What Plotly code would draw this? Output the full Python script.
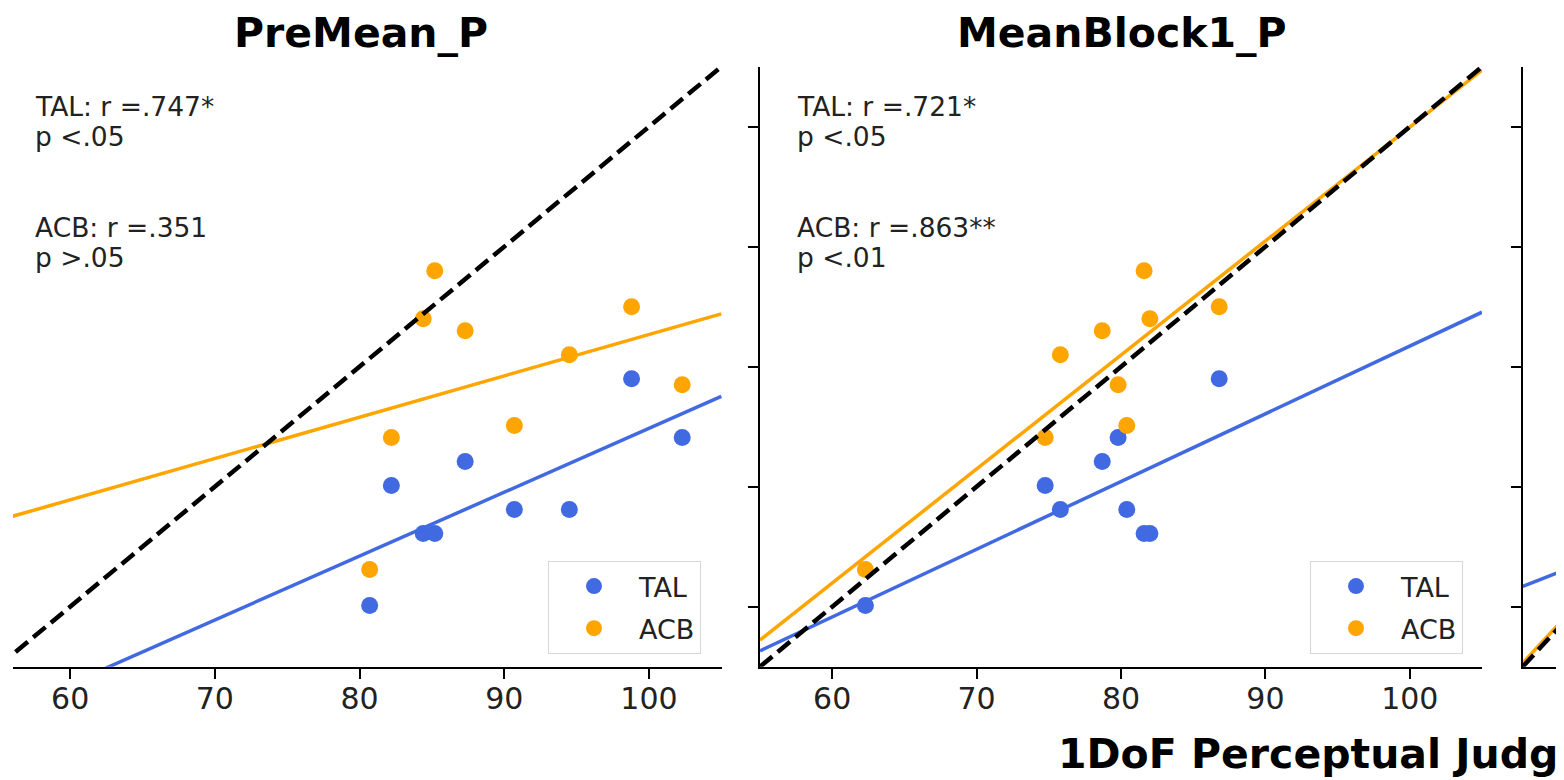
import numpy as np
import plotly.graph_objects as go

# ---------------- data ----------------
panel_titles = ["PreMean_P", "MeanBlock1_P"]
x_premean = [80.7, 82.2, 84.4, 85.2, 87.3, 90.7, 94.5, 98.8, 102.3]
x_block1 = [62.3, 74.75, 82.0, 81.6, 78.7, 80.4, 75.8, 86.8, 79.8]
y_tal = [60.1, 70.1, 66.1, 66.1, 72.1, 68.1, 68.1, 79.0, 74.1]
y_acb = [63.1, 74.1, 84.0, 88.0, 83.0, 75.1, 81.0, 85.0, 78.5]
stats_tal = ["TAL: r =.747*", "TAL: r =.721*"]
p_tal = ["p <.05", "p <.05"]
stats_acb = ["ACB: r =.351", "ACB: r =.863**"]
p_acb = ["p >.05", "p <.01"]
# third panel is cropped: only its regression lines are visible (slope, intercept)
panel3_tal_fit = [0.36, 41.9]
panel3_acb_fit = [1.0, 0.3]
axis_range = [55, 105]
tick_vals = [60, 70, 80, 90, 100]
x_label = "1DoF Perceptual Judgment"

# ---------------- style ----------------
OFF = 8                     # page body margin that the html adds
W, H = 1564 - OFF, 780 - OFF
BLUE = "#4169E1"
ORANGE = "#FFA500"
FONT = "DejaVu Sans"
DASH = "16px,7px"


def px(x):
    return (x - OFF) / W


def py(y):
    return 1 - (y - OFF) / H


fig = go.Figure()

xs_all = [x_premean, x_block1]
for i in range(2):
    xa = "x" if i == 0 else "x2"
    ya = "y" if i == 0 else "y2"
    leg = "legend" if i == 0 else "legend2"
    xs = np.array(xs_all[i])
    for name, ys, col in [("TAL", y_tal, BLUE), ("ACB", y_acb, ORANGE)]:
        fig.add_trace(go.Scatter(
            x=xs, y=ys, mode="markers", name=name,
            marker=dict(color=col, size=17, line=dict(width=0)),
            xaxis=xa, yaxis=ya, legend=leg, legendgroup=name + str(i),
            showlegend=True))
    for ys, col in [(y_tal, BLUE), (y_acb, ORANGE)]:
        k, b = np.polyfit(xs, np.array(ys), 1)
        lx = np.array(axis_range, dtype=float)
        fig.add_trace(go.Scatter(
            x=lx, y=k * lx + b, mode="lines",
            line=dict(color=col, width=3.5),
            xaxis=xa, yaxis=ya, showlegend=False, hoverinfo="skip"))
    fig.add_trace(go.Scatter(
        x=axis_range, y=axis_range, mode="lines",
        line=dict(color="black", width=4.5, dash=DASH),
        xaxis=xa, yaxis=ya, showlegend=False, hoverinfo="skip"))

# third (cropped) panel
lx = np.array(axis_range, dtype=float)
for (k, b), col in [(panel3_tal_fit, BLUE), (panel3_acb_fit, ORANGE)]:
    fig.add_trace(go.Scatter(
        x=lx, y=k * lx + b, mode="lines", line=dict(color=col, width=3.5),
        xaxis="x3", yaxis="y3", showlegend=False, hoverinfo="skip"))
fig.add_trace(go.Scatter(
    x=axis_range, y=axis_range, mode="lines",
    line=dict(color="black", width=4.5, dash=DASH),
    xaxis="x3", yaxis="y3", showlegend=False, hoverinfo="skip"))

ydom = [py(666.7), py(66.7)]
common_x = dict(showgrid=False, zeroline=False, showline=True, linecolor="black",
                linewidth=2, ticks="outside", ticklen=10, tickwidth=2,
                tickcolor="black", tickvals=tick_vals, ticklabelstandoff=-6,
                tickfont=dict(family=FONT, size=30, color="#222222"))
common_y = dict(showgrid=False, zeroline=False, range=axis_range,
                tickvals=tick_vals, showticklabels=False)

legend_style = dict(bgcolor="white", bordercolor="#d6d6d6", borderwidth=1,
                    font=dict(family=FONT, size=27, color="#222222"),
                    xanchor="left", yanchor="top", itemwidth=80, tracegroupgap=4)

fig.update_layout(
    width=W, height=H,
    margin=dict(l=0, r=0, t=0, b=0),
    paper_bgcolor="white", plot_bgcolor="white",
    font=dict(family=FONT, color="#222222"),
    xaxis=dict(domain=[px(13), px(722)], range=[56.05, 105.05], anchor="y", **common_x),
    yaxis=dict(domain=ydom, anchor="x", showline=False, ticks="", **common_y),
    xaxis2=dict(domain=[px(760), px(1482)], range=axis_range, anchor="y2", **common_x),
    yaxis2=dict(domain=ydom, anchor="x2", showline=True, linecolor="black", linewidth=2,
                ticks="outside", ticklen=10, tickwidth=2, tickcolor="black", **common_y),
    xaxis3=dict(domain=[px(1522.7), 1], range=[55, 58.72], anchor="y3", **common_x),
    yaxis3=dict(domain=ydom, anchor="x3", showline=True, linecolor="black", linewidth=2,
                ticks="outside", ticklen=10, tickwidth=2, tickcolor="black", **common_y),
    legend=dict(x=px(548), y=py(561), **legend_style),
    legend2=dict(x=px(1310), y=py(561), **legend_style),
    showlegend=True,
)

annotations = []
title_centers = [361, 1122]
text_left = [33, 795]
for i in range(2):
    annotations.append(dict(text="<b>%s</b>" % panel_titles[i], x=px(title_centers[i]), y=py(32.5),
                            xref="paper", yref="paper", xanchor="center", yanchor="middle",
                            showarrow=False, font=dict(family=FONT, size=41, color="black")))
    for txt, yc in [(stats_tal[i], 106.7), (p_tal[i], 136.7), (stats_acb[i], 227.7), (p_acb[i], 257.7)]:
        annotations.append(dict(text=txt, x=px(text_left[i]), y=py(yc), xref="paper", yref="paper",
                                xanchor="left", yanchor="middle", showarrow=False,
                                font=dict(family=FONT, size=26.5, color="#222222")))
annotations.append(dict(text="<b>%s</b>" % x_label, x=px(1056), y=py(754), xref="paper", yref="paper",
                        xanchor="left", yanchor="middle", showarrow=False,
                        font=dict(family=FONT, size=41, color="black")))
fig.update_layout(annotations=annotations)

fig.write_html("out.html")
